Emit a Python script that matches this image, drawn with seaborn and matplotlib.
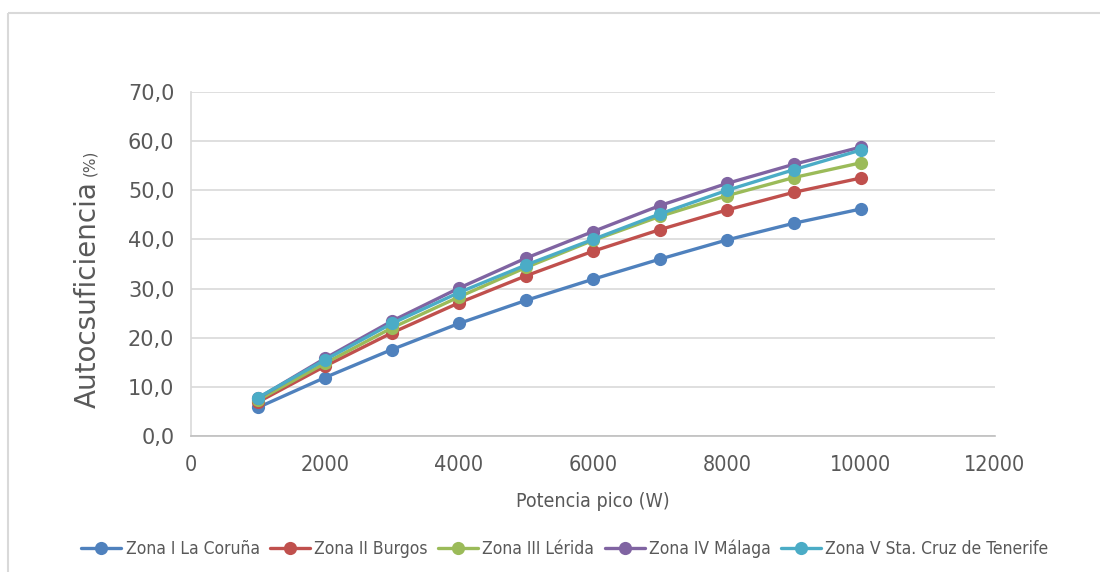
import matplotlib
matplotlib.use("Agg")
import matplotlib.pyplot as plt
from matplotlib.lines import Line2D
from matplotlib.ticker import FuncFormatter, MultipleLocator
import seaborn as sns
import pandas as pd

# Peak power (W)
potencia = [1000, 2000, 3000, 4000, 5000, 6000, 7000, 8000, 9000, 10000]

zonas = [
    "Zona I La Coruña",
    "Zona II Burgos",
    "Zona III Lérida",
    "Zona IV Málaga",
    "Zona V Sta. Cruz de Tenerife",
]

# Self-sufficiency (%) per climatic zone
zona_i = [5.8, 11.9, 17.6, 22.9, 27.6, 31.9, 36.0, 39.9, 43.3, 46.2]
zona_ii = [6.9, 14.2, 21.0, 27.1, 32.6, 37.6, 42.0, 46.0, 49.6, 52.5]
zona_iii = [7.3, 14.8, 22.0, 28.3, 34.3, 39.8, 44.7, 48.9, 52.6, 55.6]
zona_iv = [7.7, 15.8, 23.4, 30.1, 36.2, 41.6, 46.9, 51.4, 55.3, 58.8]
zona_v = [7.8, 15.5, 22.9, 29.2, 34.8, 40.0, 45.2, 50.0, 54.2, 58.2]

colores = ["#4F81BD", "#C0504D", "#9BBB59", "#8064A2", "#4BACC6"]

df = pd.concat(
    [
        pd.DataFrame({"Potencia": potencia, "Autosuf": vals, "Zona": z})
        for z, vals in zip(zonas, [zona_i, zona_ii, zona_iii, zona_iv, zona_v])
    ],
    ignore_index=True,
)

sns.set_theme(style="white")
plt.rcParams["font.family"] = ["DejaVu Sans"]

fig = plt.figure(figsize=(11, 5.72), dpi=100)
ax = fig.add_axes([191 / 1100, 1 - 436 / 572, 804 / 1100, 344 / 572])

sns.lineplot(
    data=df, x="Potencia", y="Autosuf", hue="Zona", hue_order=zonas,
    palette=colores, marker="o", markersize=9.5, markeredgewidth=0,
    linewidth=2.4, ax=ax, legend=True,
)

ax.set_xlim(0, 12000)
ax.set_ylim(0, 70)
ax.xaxis.set_major_locator(MultipleLocator(2000))
ax.yaxis.set_major_locator(MultipleLocator(10))
ax.yaxis.set_major_formatter(FuncFormatter(lambda v, p: f"{v:.1f}".replace(".", ",")))
ax.grid(axis="y", color="#D9D9D9", linewidth=1.2)
ax.grid(axis="x", visible=False)
ax.set_axisbelow(True)

for s in ["top", "right"]:
    ax.spines[s].set_visible(False)
ax.spines["left"].set_color("#D9D9D9")
ax.spines["bottom"].set_color("#BFBFBF")
ax.spines["left"].set_linewidth(1.2)
ax.spines["bottom"].set_linewidth(1.2)

ax.tick_params(axis="both", length=0, colors="#595959")
ax.tick_params(axis="y", labelsize=15, pad=12)
ax.tick_params(axis="x", labelsize=15.5, pad=14)
for lab in ax.get_xticklabels():
    lab.set_fontstretch("condensed")

ax.set_ylabel("")
ax.set_xlabel("Potencia pico (W)", fontsize=14, color="#595959",
              fontstretch="condensed", labelpad=12)

# Rotated y-axis title with a smaller unit suffix
fig.text(88 / 1100, 1 - 295 / 572, "Autocsuficiencia", rotation=90,
         fontsize=20, color="#595959", ha="center", va="center")
fig.text(90 / 1100, 1 - 163 / 572, "(%)", rotation=90,
         fontsize=11, color="#595959", ha="center", va="center")

handles, labels = ax.get_legend_handles_labels()
ax.legend_.remove()
leg = fig.legend(handles, labels, loc="center", bbox_to_anchor=(565 / 1100, 1 - 549 / 572),
                 ncol=5, frameon=False, fontsize=12.5, handlelength=2.3,
                 handletextpad=0.25, columnspacing=0.6, labelcolor="#595959")
for t in leg.get_texts():
    t.set_fontstretch("condensed")

# Chart-area border (top and left edges)
x0, y0 = 8 / 1100, 1 - 13 / 572
fig.add_artist(Line2D([x0, 1.1], [y0, y0], transform=fig.transFigure,
                      color="#D9D9D9", linewidth=1.5, solid_capstyle="butt"))
fig.add_artist(Line2D([x0, x0], [-0.1, y0], transform=fig.transFigure,
                      color="#D9D9D9", linewidth=1.5, solid_capstyle="butt"))

fig.savefig("out.png", dpi=100)
